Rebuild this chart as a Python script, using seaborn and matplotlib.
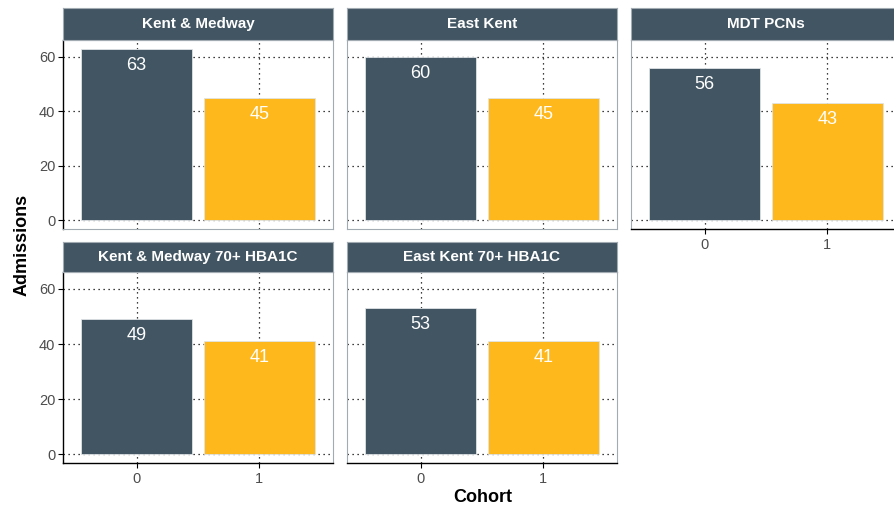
import matplotlib
matplotlib.use("Agg")
import matplotlib.pyplot as plt
import seaborn as sns
import pandas as pd

# Admissions by cohort for each area
areas = ["Kent & Medway", "East Kent", "MDT PCNs",
         "Kent & Medway 70+ HBA1C", "East Kent 70+ HBA1C"]
cohorts = ["0", "1"]
cohort0 = [63, 60, 56, 49, 53]
cohort1 = [45, 45, 43, 41, 41]
y_ticks = [0, 20, 40, 60]

rows = []
for a, v0, v1 in zip(areas, cohort0, cohort1):
    rows.append({"Area": a, "Cohort": cohorts[0], "Admissions": v0})
    rows.append({"Area": a, "Cohort": cohorts[1], "Admissions": v1})
df = pd.DataFrame(rows)

sns.set_theme(style="white")
plt.rcParams["font.family"] = ["Liberation Sans", "DejaVu Sans"]

DARK = "#425563"
YELLOW = "#FFB81C"
palette = {cohorts[0]: DARK, cohorts[1]: YELLOW}

W, H = 895, 508
fig = plt.figure(figsize=(W / 100, H / 100), dpi=100)


def px_axes(x0, y0, x1, y1):
    """Add axes from pixel box given with a top-left origin."""
    return fig.add_axes([x0 / W, 1 - y1 / H, (x1 - x0) / W, (y1 - y0) / H])


col_x = [(63, 333), (347, 617), (631, 901)]
row_y = [((8, 40), (40, 229)), ((242, 272), (272, 463))]

ymax = max(max(cohort0), max(cohort1))
ylim = (-0.05 * ymax, ymax * 1.05)

for i, area in enumerate(areas):
    r, c = divmod(i, 3)
    (sy0, sy1), (py0, py1) = row_y[r]
    x0, x1 = col_x[c]

    ax = px_axes(x0, py0, x1, py1)
    sub = df[df["Area"] == area]
    sns.barplot(data=sub, x="Cohort", y="Admissions", hue="Cohort",
                palette=palette, order=cohorts, hue_order=cohorts,
                width=0.9, dodge=False, legend=False, ax=ax, saturation=1,
                edgecolor="#dfe3e6", linewidth=0.6, zorder=3)
    ax.set_xlim(-0.6, 1.6)
    ax.set_ylim(*ylim)
    ax.set_yticks(y_ticks)
    ax.set_xticks(range(len(cohorts)))

    # dotted grid beneath the bars
    for yt in y_ticks:
        ax.axhline(yt, color="black", lw=0.9, ls=(0, (1, 3)), zorder=1)
    for xt in range(len(cohorts)):
        ax.axvline(xt, color="black", lw=0.9, ls=(0, (1, 3)), zorder=1)

    # value labels inside the bar tops
    for k, val in enumerate(sub["Admissions"].tolist()):
        ax.annotate(str(val), (k, val), xytext=(0, -12),
                    textcoords="offset points", ha="center", va="center",
                    color="white", fontsize=13, zorder=5)

    for s in ax.spines.values():
        s.set_visible(True)
        s.set_color("#a3abb2")
        s.set_linewidth(0.8)

    is_left = (c == 0)
    is_bottom = (r == 1) or (i == 2)

    ax.set_xlabel("")
    ax.set_ylabel("")
    if is_left:
        ax.spines["left"].set_color("black")
        ax.spines["left"].set_linewidth(1.0)
        ax.tick_params(axis="y", left=True, length=3.5, width=0.8,
                       color="black", labelsize=10.5, labelcolor="#4d4d4d", pad=2)
    else:
        ax.tick_params(axis="y", left=False, labelleft=False)
    if is_bottom:
        ax.spines["bottom"].set_color("black")
        ax.spines["bottom"].set_linewidth(1.0)
        ax.tick_params(axis="x", bottom=True, length=3.5, width=0.8,
                       color="black", labelsize=10.5, labelcolor="#4d4d4d", pad=3)
        ax.set_xticklabels(cohorts)
    else:
        ax.tick_params(axis="x", bottom=False, labelbottom=False)

    # facet strip
    sax = px_axes(x0, sy0, x1, sy1)
    sax.set_facecolor(DARK)
    sax.set_xticks([])
    sax.set_yticks([])
    for s in sax.spines.values():
        s.set_color("#a3abb2")
        s.set_linewidth(0.8)
    sax.text(0.5, 0.5, area, transform=sax.transAxes, ha="center",
             va="center", color="white", fontsize=11, fontweight="bold")

fig.text(483 / W, 1 - 498 / H, "Cohort", ha="center", va="center",
         fontsize=13, fontweight="bold", color="black")
fig.text(22 / W, 1 - 245 / H, "Admissions", ha="center", va="center",
         rotation=90, fontsize=13, fontweight="bold", color="black")

fig.savefig("out.png", dpi=100, facecolor="white")
